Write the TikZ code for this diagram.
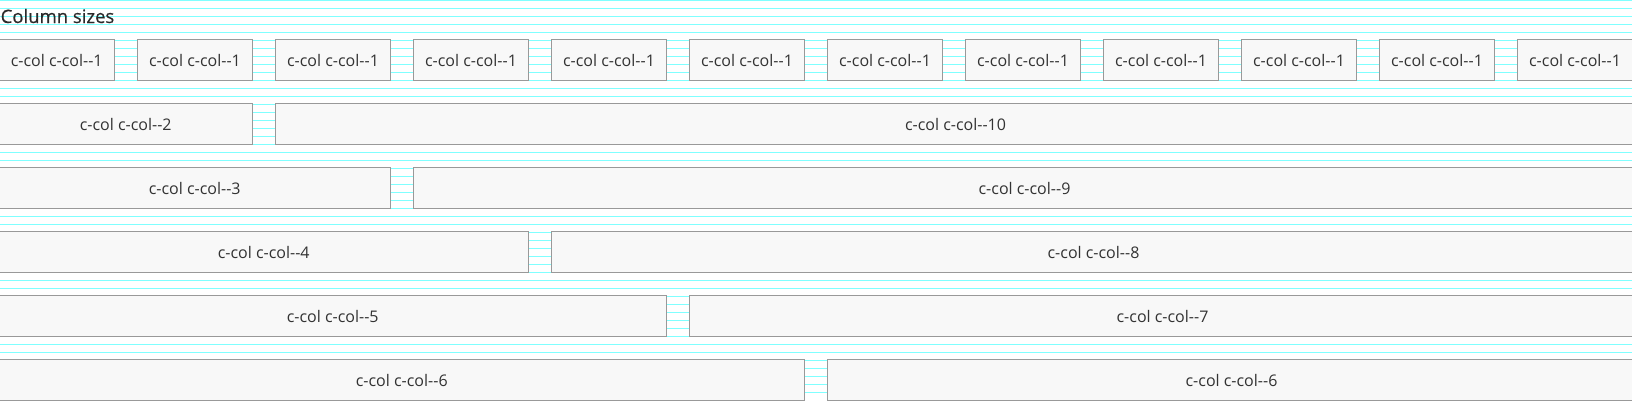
\documentclass[tikz,border=0pt]{standalone}
\usepackage{fontspec}
\setmainfont{Open Sans}
\definecolor{gridcyan}{HTML}{80FFFF}
\definecolor{boxfill}{HTML}{F8F8F8}
\definecolor{boxline}{HTML}{999999}
\definecolor{txt}{HTML}{333333}
\definecolor{titletxt}{HTML}{2A2A2A}
\tikzset{
  gridline/.style={draw=gridcyan, line width=1pt},
  cbox/.style={draw=boxline, fill=boxfill, line width=1pt, minimum height=41pt,
    inner sep=0pt, outer sep=0pt, text=txt, font=\fontsize{16}{19}\selectfont, anchor=west},
  titlestyle/.style={anchor=base west, inner sep=0pt, text=titletxt,
    font=\fontsize{18.5}{22}\selectfont\addfontfeature{FakeBold=0.4}}
}
\newcommand{\dd}{-{}-}
\begin{document}
\begin{tikzpicture}[x=1pt,y=-1pt]
\useasboundingbox (0,0) rectangle (1632,400);
\clip (0,0) rectangle (1632,400);
\foreach \k in {0,...,49} {
  \draw[gridline] (0,8*\k+0.5) -- (1632,8*\k+0.5);
}
\node[titlestyle] (title) at (0.5,23) {Column sizes};
% row 1: twelve c-col--1
\node[cbox, minimum width=115.5pt] (a0) at (-1,60) {c-col c-col\dd1};
\foreach \i in {1,...,11} {
  \node[cbox, minimum width=115pt] (a\i) at (138*\i-0.5,60) {c-col c-col\dd1};
}
% row 2
\node[cbox, minimum width=253.5pt] (b1) at (-1,124) {c-col c-col\dd2};
\node[cbox, minimum width=1360pt] (b2) at (275.5,124) {c-col c-col\dd10};
% row 3
\node[cbox, minimum width=391.5pt] (c1) at (-1,188) {c-col c-col\dd3};
\node[cbox, minimum width=1222pt] (c2) at (413.5,188) {c-col c-col\dd9};
% row 4
\node[cbox, minimum width=529.5pt] (d1) at (-1,252) {c-col c-col\dd4};
\node[cbox, minimum width=1084pt] (d2) at (551.5,252) {c-col c-col\dd8};
% row 5
\node[cbox, minimum width=667.5pt] (e1) at (-1,316) {c-col c-col\dd5};
\node[cbox, minimum width=946pt] (e2) at (689.5,316) {c-col c-col\dd7};
% row 6
\node[cbox, minimum width=805.5pt] (f1) at (-1,380) {c-col c-col\dd6};
\node[cbox, minimum width=808pt] (f2) at (827.5,380) {c-col c-col\dd6};
\end{tikzpicture}
\end{document}
